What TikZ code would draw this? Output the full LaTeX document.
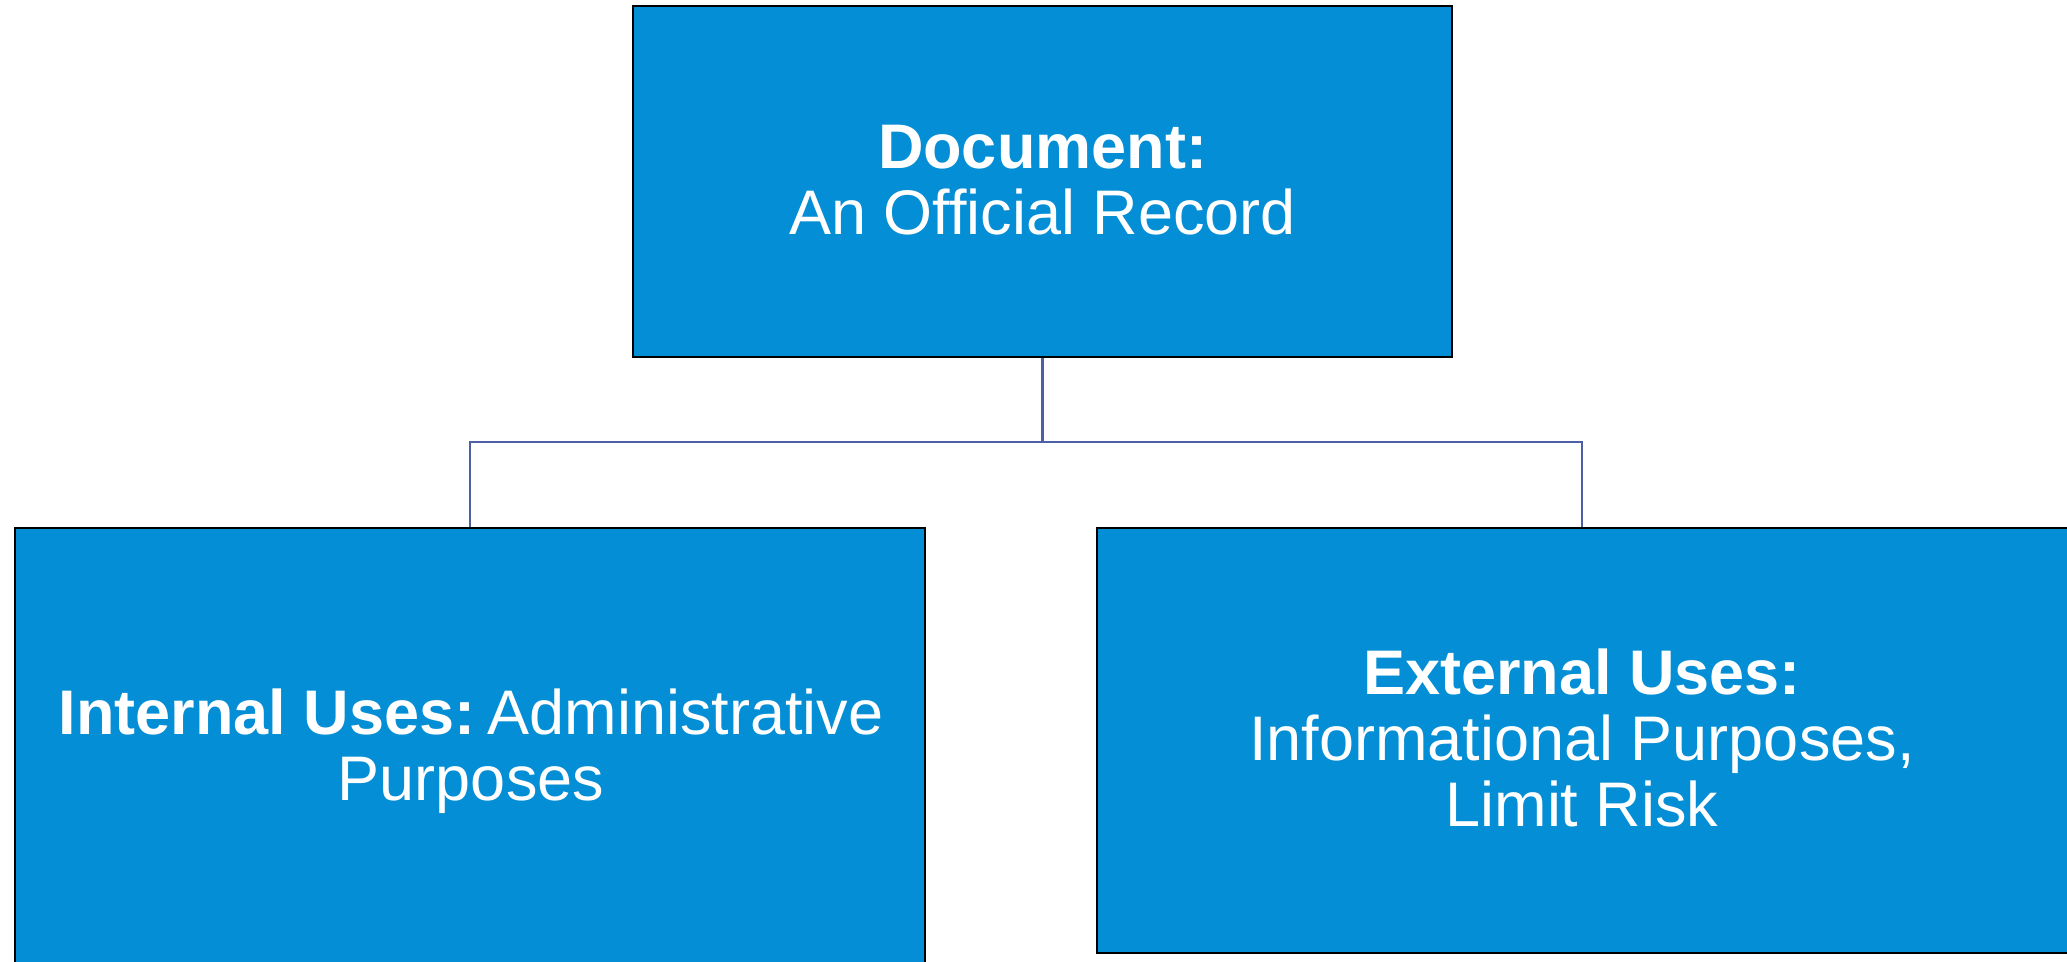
\documentclass[tikz,border=0pt]{standalone}
\usepackage{fontspec}
\setmainfont{Liberation Sans}
\definecolor{boxblue}{HTML}{038ED6}
\definecolor{linkblue}{HTML}{4D5FA6}
\begin{document}
\begin{tikzpicture}[x=0.5pt,y=-0.5pt,
  box/.style={draw=black, line width=1pt, fill=boxblue, inner sep=0pt, rectangle},
  boxtext/.style={text=white, align=center, inner sep=0pt,
    font=\fontsize{31.5}{33}\selectfont},
  link/.style={draw=linkblue, line width=1.3pt}]
  \useasboundingbox (0,0) rectangle (2067,962);

  % connectors (drawn first so the box borders sit on top)
  \coordinate (hub) at (1042.5,442);
  \coordinate (top-foot) at (1042.5,357);
  \coordinate (int-head) at (470,528);
  \coordinate (ext-head) at (1582,528);
  \draw[link] (top-foot) -- (hub);
  \draw[link] (hub) -| (int-head);
  \draw[link] (hub) -| (ext-head);

  % boxes
  \node[box, minimum width=409.5pt, minimum height=175.5pt] (top) at (1042.5,181.5) {};
  \node[box, minimum width=455pt, minimum height=231pt] (int) at (470,759) {};
  \node[box, minimum width=486pt, minimum height=212.5pt] (ext) at (1583,740.5) {};

  % texts
  \node[boxtext] (toptext) at (1042.5,180) {\textbf{Document:}\\An Official Record};
  \node[boxtext] (inttext) at (471,751) {\textbf{Internal Uses:}\hspace{0.2em}Administrative\\Purposes};
  \node[boxtext] (exttext) at (1582,738) {\textbf{External Uses:}\\Informational Purposes,\\Limit Risk};
\end{tikzpicture}
\end{document}
